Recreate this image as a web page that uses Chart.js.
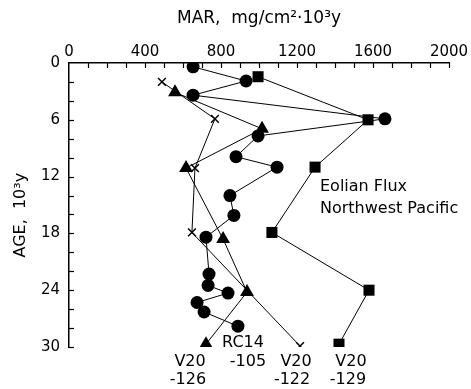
<!DOCTYPE html>
<html><head><meta charset="utf-8">
<script src="https://cdn.jsdelivr.net/npm/chart.js"></script>
<style>html,body{margin:0;padding:0;background:#fff}</style>
</head><body>
<canvas id="c" width="471" height="389"></canvas>
<script>
// RC14-105 (circles)
const rc14_105_age = [0.4, 1.9, 3.4, 5.9, 7.7, 9.9, 11.0, 14.0, 16.1, 18.4, 22.3, 23.5, 24.3, 25.3, 26.3, 27.8];
const rc14_105_mar = [653, 932, 653, 1663, 995, 879, 1095, 847, 868, 721, 737, 732, 837, 674, 711, 889];
// V20-126 (triangles)
const v20_126_age = [3.1, 6.95, 11.1, 18.6, 24.2, 29.7];
const v20_126_mar = [558, 1016, 616, 811, 937, 721];
// V20-122 (crosses)
const v20_122_age = [2.0, 5.9, 11.1, 17.9, 29.9];
const v20_122_mar = [489, 768, 663, 647, 1216];
// V20-129 (squares)
const v20_129_age = [1.45, 6.0, 11.0, 17.9, 24.0, 29.7];
const v20_129_mar = [995, 1574, 1295, 1068, 1579, 1421];

const xTickLabels = [0, 400, 800, 1200, 1600, 2000];
const yTickLabels = [0, 6, 12, 18, 24, 30];
const xMinorStep = 100;
const yMinorStep = 2;
const xTitle = 'MAR,  mg/cm²·10³y';
const yTitle = 'AGE,  10³y    ';

// text annotations anchored in data units (MAR, AGE)
const notes = [
  {text: 'RC14', x: 916, y: 29.6, align: 'center'},
  {text: '-105', x: 942, y: 31.6, align: 'center'},
  {text: 'V20', x: 637, y: 31.6, align: 'center'},
  {text: '-126', x: 626, y: 33.5, align: 'center'},
  {text: 'V20', x: 1195, y: 31.6, align: 'center'},
  {text: '-122', x: 1174, y: 33.5, align: 'center'},
  {text: 'V20', x: 1484, y: 31.6, align: 'center'},
  {text: '-129', x: 1468, y: 33.5, align: 'center'},
  {text: 'Eolian Flux', x: 1321, y: 13.1, align: 'left'},
  {text: 'Northwest Pacific', x: 1321, y: 15.4, align: 'left'}
];

const FONT = '"DejaVu Sans", sans-serif';
Chart.defaults.font.family = FONT;
Chart.defaults.color = '#000';

function pts(xs, ys) { return xs.map((v, i) => ({x: v, y: ys[i]})); }

const inwardTicks = {
  id: 'inwardTicks',
  afterDraw(chart) {
    const ctx = chart.ctx, xs = chart.scales.x, ys = chart.scales.y;
    const ca = chart.chartArea;
    ctx.save();
    ctx.strokeStyle = '#000';
    ctx.lineWidth = 1.2;
    for (let v = xs.min + xMinorStep; v <= xs.max + 1e-9; v += xMinorStep) {
      const px = Math.round(xs.getPixelForValue(v)) + 0.5;
      ctx.beginPath(); ctx.moveTo(px, ca.top); ctx.lineTo(px, ca.top + 5); ctx.stroke();
    }
    for (let v = ys.min + yMinorStep; v <= ys.max + 1e-9; v += yMinorStep) {
      const py = Math.round(ys.getPixelForValue(v)) + 0.5;
      ctx.beginPath(); ctx.moveTo(ca.left, py); ctx.lineTo(ca.left + 5, py); ctx.stroke();
    }
    ctx.restore();
  }
};

// top-axis value labels, placed through the x scale
const xLabels = {
  id: 'xLabels',
  afterDraw(chart) {
    const ctx = chart.ctx, xs = chart.scales.x;
    const ca = chart.chartArea;
    ctx.save();
    ctx.fillStyle = '#000';
    ctx.font = '15px ' + FONT;
    ctx.textAlign = 'center';
    ctx.textBaseline = 'alphabetic';
    xTickLabels.forEach(v => {
      ctx.fillText(String(v), xs.getPixelForValue(v), ca.top - 7);
    });
    ctx.restore();
  }
};

const noteText = {
  id: 'noteText',
  afterDraw(chart) {
    const ctx = chart.ctx, xs = chart.scales.x, ys = chart.scales.y;
    ctx.save();
    ctx.fillStyle = '#000';
    ctx.font = '16px ' + FONT;
    ctx.textBaseline = 'middle';
    notes.forEach(n => {
      ctx.textAlign = n.align;
      ctx.fillText(n.text, xs.getPixelForValue(n.x), ys.getPixelForValue(n.y));
    });
    ctx.restore();
  }
};

const base = {showLine: true, borderColor: '#000', backgroundColor: '#000', borderWidth: 1, pointBorderColor: '#000', pointBackgroundColor: '#000', pointHoverRadius: 0};

new Chart(document.getElementById('c'), {
  type: 'scatter',
  data: {
    datasets: [
      Object.assign({}, base, {label: 'RC14-105', data: pts(rc14_105_mar, rc14_105_age), pointStyle: 'circle', pointRadius: 6.5, pointBorderWidth: 0}),
      Object.assign({}, base, {label: 'V20-126', data: pts(v20_126_mar, v20_126_age), pointStyle: 'triangle', pointRadius: 8, pointBorderWidth: 0}),
      Object.assign({}, base, {label: 'V20-122', data: pts(v20_122_mar, v20_122_age), pointStyle: 'crossRot', pointRadius: 5.5, pointBorderWidth: 1.5}),
      Object.assign({}, base, {label: 'V20-129', data: pts(v20_129_mar, v20_129_age), pointStyle: 'rect', pointRadius: 7.8, pointBorderWidth: 0})
    ]
  },
  options: {
    responsive: false,
    animation: false,
    layout: {padding: {top: 0, left: 0, right: 22, bottom: 42}},
    plugins: {legend: {display: false}, tooltip: {enabled: false}},
    scales: {
      x: {
        type: 'linear', position: 'top', min: 0, max: 2000,
        afterBuildTicks(s) { s.ticks = xTickLabels.map(v => ({value: v})); },
        ticks: {display: false},
        grid: {display: true, drawOnChartArea: false, drawTicks: false},
        border: {display: true, color: '#000', width: 1.5},
        title: {display: true, text: xTitle, font: {size: 17}, padding: {top: 8, bottom: 0}},
        afterFit(s) { s.height = 63; }
      },
      y: {
        type: 'linear', position: 'left', reverse: true, min: 0, max: 30,
        afterBuildTicks(s) { s.ticks = yTickLabels.map(v => ({value: v})); },
        ticks: {autoSkip: false, padding: 9, font: {size: 15},
          callback: v => String(v)},
        grid: {display: true, drawOnChartArea: false, drawTicks: false},
        border: {display: true, color: '#000', width: 1.5},
        title: {display: true, text: yTitle, font: {size: 16}, padding: {top: 11, bottom: 0}},
        afterFit(s) { s.width = 69; }
      }
    }
  },
  plugins: [inwardTicks, xLabels, noteText]
});
</script>
</body></html>
